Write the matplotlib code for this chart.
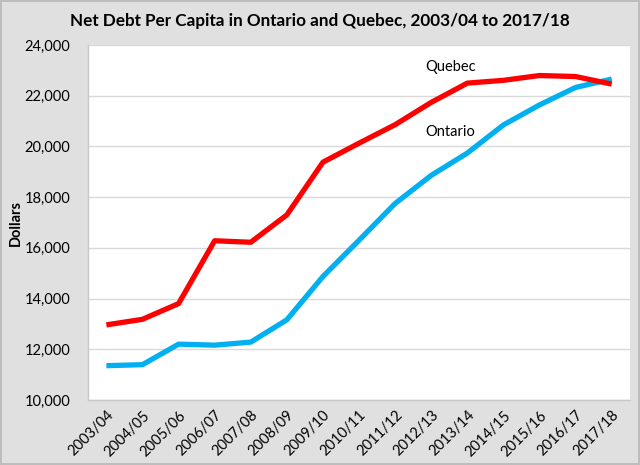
import matplotlib
matplotlib.use("Agg")
import matplotlib.pyplot as plt
from matplotlib.ticker import FuncFormatter

years = ["2003/04", "2004/05", "2005/06", "2006/07", "2007/08", "2008/09",
         "2009/10", "2010/11", "2011/12", "2012/13", "2013/14", "2014/15",
         "2015/16", "2016/17", "2017/18"]
ontario = [11350, 11390, 12200, 12160, 12280, 13160, 14870, 16300, 17750,
           18860, 19740, 20850, 21640, 22330, 22660]
quebec = [12960, 13180, 13800, 16280, 16220, 17300, 19380, 20130, 20860,
          21740, 22500, 22610, 22800, 22760, 22460]

plt.rcParams['font.family'] = ['Lato', 'DejaVu Sans']

fig = plt.figure(figsize=(6.4, 4.65), dpi=100, facecolor="#e0e0e0",
                 edgecolor="#bdbdbd", linewidth=1.5)
ax = fig.add_axes([0.138, 0.140, 0.846, 0.763])
ax.set_facecolor("white")

x = list(range(len(years)))
ax.plot(x, ontario, color="#00b0f0", lw=3.8, solid_capstyle="butt")
ax.plot(x, quebec, color="#ff0000", lw=3.8, solid_capstyle="butt")

ax.text(9.54, 23150, "Quebec", fontsize=10.5, ha="center", va="center")
ax.text(9.54, 20560, "Ontario", fontsize=10.5, ha="center", va="center")

ax.set_xlim(-0.5, len(years) - 0.5)
ax.set_ylim(10000, 24000)
ax.set_yticks(range(10000, 24001, 2000))
ax.yaxis.set_major_formatter(FuncFormatter(lambda v, p: f"{int(v):,}"))
ax.set_xticks(x)
ax.set_xticklabels(years, rotation=45, ha="right", rotation_mode="anchor")
ax.tick_params(length=0, labelsize=10.5, colors="black")
ax.tick_params(axis="y", pad=13)
ax.tick_params(axis="x", pad=6)

ax.grid(axis="y", color="#d9d9d9", lw=1)
ax.set_axisbelow(True)
for side in ["top", "right"]:
    ax.spines[side].set_visible(False)
for side in ["left", "bottom"]:
    ax.spines[side].set_color("#c8c8c8")
    ax.spines[side].set_linewidth(1)

ax.set_ylabel("Dollars", fontsize=10.5, fontweight="bold")
ax.yaxis.set_label_coords(-0.121, 0.5)
fig.text(0.5, 0.955, "Net Debt Per Capita in Ontario and Quebec, 2003/04 to 2017/18",
         ha="center", va="center", fontsize=12.3, fontweight="bold")

fig.savefig("out.png", dpi=100, facecolor=fig.get_facecolor(),
            edgecolor=fig.get_edgecolor())
